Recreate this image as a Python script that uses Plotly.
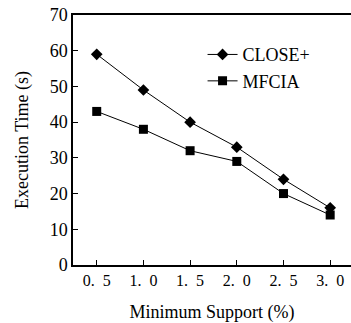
import plotly.graph_objects as go

support = [0.5, 1.0, 1.5, 2.0, 2.5, 3.0]
tick_labels = ["0.\u20025", "1.\u20020", "1.\u20025", "2.\u20020", "2.\u20025", "3.\u20020"]
close_plus = [59, 49, 40, 33, 24, 16]
mfcia = [43, 38, 32, 29, 20, 14]

FONT = "Liberation Serif"

fig = go.Figure()
fig.add_trace(go.Scatter(
    x=support, y=close_plus, name="CLOSE+", mode="lines+markers",
    line=dict(color="black", width=1),
    marker=dict(symbol="diamond", size=9, color="black"),
))
fig.add_trace(go.Scatter(
    x=support, y=mfcia, name="MFCIA", mode="lines+markers",
    line=dict(color="black", width=1),
    marker=dict(symbol="square", size=9, color="black"),
))

fig.update_layout(
    width=351, height=323,
    margin=dict(l=73, r=0, t=15, b=58),
    paper_bgcolor="white", plot_bgcolor="white",
    font=dict(family=FONT, color="black", size=17),
    showlegend=True,
    legend=dict(
        x=0.466, y=0.915, xanchor="left", yanchor="top",
        bgcolor="rgba(0,0,0,0)", font=dict(family=FONT, size=18),
        itemwidth=30, tracegroupgap=0,
    ),
    xaxis=dict(
        range=[0.246, 3.223], tickmode="array", tickvals=support, ticktext=tick_labels,
        ticks="inside", ticklen=5, tickcolor="black", showline=True, linecolor="black",
        linewidth=1.5, mirror=True, showgrid=False, zeroline=False, automargin=False,
        title=dict(text="Minimum Support (%)", font=dict(size=18), standoff=19),
        tickfont=dict(size=16),
    ),
    yaxis=dict(
        range=[0, 70], dtick=10, ticks="inside", ticklen=5, tickcolor="black",
        showline=True, linecolor="black", linewidth=1.5, showgrid=False, zeroline=False,
        automargin=False,
        title=dict(text="Execution Time (s)", font=dict(size=18), standoff=16),
        tickfont=dict(size=18),
    ),
)

fig.write_html("out.html", post_script="document.body.style.margin='0px';",
               config={"displayModeBar": False})
